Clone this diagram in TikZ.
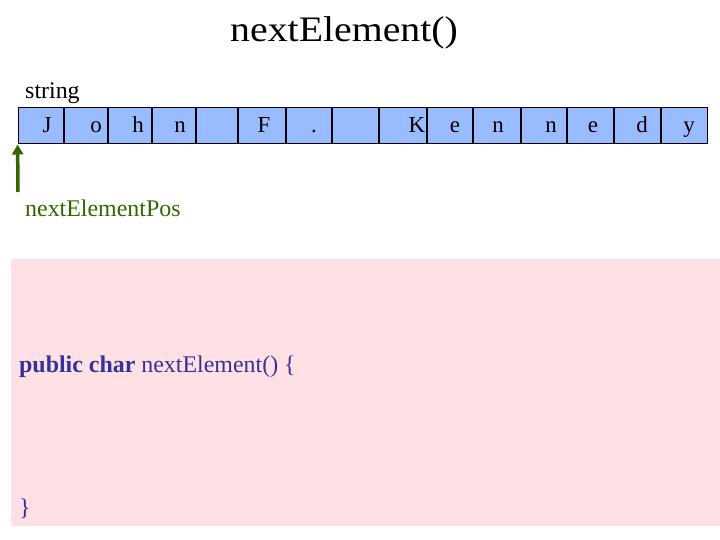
\documentclass[tikz,border=0pt]{standalone}
\usepackage{fontspec}
\setmainfont{Liberation Serif}
\usetikzlibrary{arrows.meta}
\definecolor{cellblue}{RGB}{153,187,255}
\definecolor{posgreen}{RGB}{51,102,0}
\definecolor{codepink}{RGB}{255,224,228}
\definecolor{codeblue}{RGB}{51,51,153}
\begin{document}
\begin{tikzpicture}[x=1bp,y=-1bp,
  cellbox/.style={draw=black,line width=1bp,fill=cellblue,inner sep=0pt,minimum height=36bp},
  celltext/.style={anchor=base,inner sep=0pt,font=\fontsize{23}{27}\selectfont},
  lbl/.style={anchor=base west,inner sep=0pt,font=\fontsize{24}{28}\selectfont},
  codetext/.style={anchor=base west,inner sep=0pt,text=codeblue,font=\fontsize{24}{28}\selectfont}]
\useasboundingbox (0,0) rectangle (720,540);
% title
\node[anchor=base west,inner sep=0pt,font=\fontsize{36}{40}\selectfont,transform shape,xscale=1.11] (title) at (230,42) {nextElement()};
% label
\node[lbl] (strlbl) at (25,99) {string};
% cells
\foreach \i/\a/\b in {1/18/64,2/64/108,3/108/152,4/152/196,5/196/238,6/238/286,7/286/332,8/332/379,9/379/427,10/427/473,11/473/521,12/521/567,13/567/614,14/614/661,15/661/708}{
  \node[cellbox,minimum width=\b-\a] (c\i) at ({(\a+\b)/2},126) {};
}
\foreach \i/\x/\t in {1/47/J,2/96/o,3/138/h,4/180/n,6/264/F,7/314/.,9/417/K,10/455/e,11/498/n,12/551/n,13/593/e,14/642/d,15/689/y}{
  \node[celltext] (t\i) at (\x,133) {\t};
}
% pointer
\coordinate (ptail) at (18,192);
\draw[posgreen,line width=3.5bp,-{Triangle[width=11bp,length=10bp]}] (ptail) -- (c1.south west);
\node[lbl,text=posgreen] (poslbl) at (25,217) {nextElementPos};
% code area
\fill[codepink] (11,259) rectangle (720,526);
\node[codetext] (code1) at (19,372) {\textbf{public char} nextElement() \{};
\node[codetext] (code2) at (19,515) {\}};
\end{tikzpicture}
\end{document}
